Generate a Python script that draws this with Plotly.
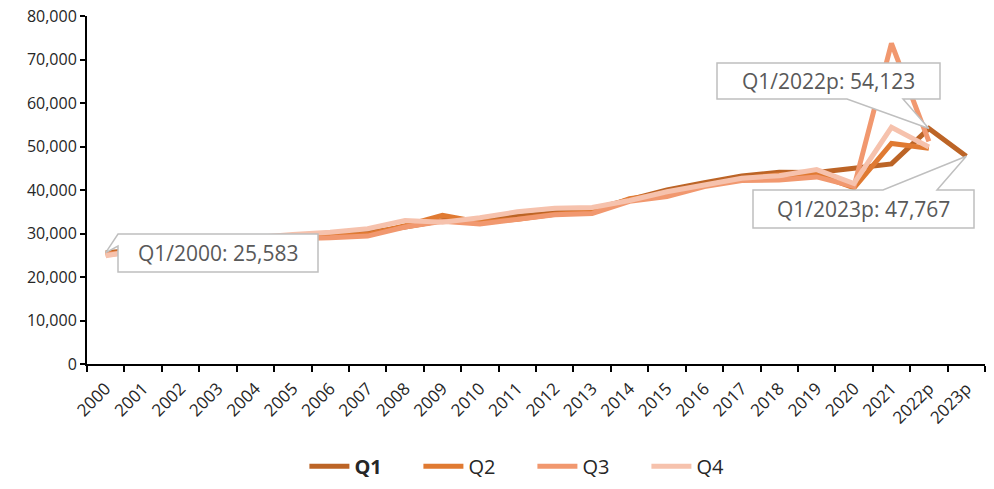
import plotly.graph_objects as go

years = ["2000", "2001", "2002", "2003", "2004", "2005", "2006", "2007", "2008", "2009",
         "2010", "2011", "2012", "2013", "2014", "2015", "2016", "2017", "2018", "2019",
         "2020", "2021", "2022p", "2023p"]

q1 = [25583, 26300, 27000, 27800, 28500, 29200, 29600, 30200, 31500, 33000,
      33200, 34000, 35000, 35600, 37800, 40000, 41700, 43200, 44100, 44000,
      45000, 46000, 54123, 47767]
q2 = [25300, 26100, 26900, 27600, 28300, 28900, 29300, 29800, 31800, 34200,
      32600, 33300, 34400, 35000, 38000, 39200, 41000, 42600, 43500, 43600,
      40500, 50700, 49600, None]
q3 = [25100, 26000, 26800, 27500, 28200, 28800, 29000, 29400, 31500, 32800,
      32200, 33300, 34300, 34600, 37400, 38500, 40800, 42200, 42300, 43000,
      40800, 73700, 51200, None]
q4 = [24900, 26300, 27300, 28300, 29100, 29800, 30300, 31100, 33000, 32600,
      33600, 35000, 35800, 36000, 37600, 39600, 41200, 42700, 43300, 44700,
      41500, 54400, 49900, None]

series_names = ["<b>Q1</b>", "Q2", "Q3", "Q4"]
series_colors = ["#BC6426", "#E07A32", "#F1986F", "#F6C2AD"]

FONT = "Open Sans"
W, H = 994, 489
L, R, T, B = 87, 9, 16, 125
YMAX = 80000
NCAT = len(years)
xs = list(range(NCAT))

pw = W - L - R
ph = H - T - B


def px2d(px, py):
    x = (px - L) / pw * NCAT - 0.5
    y = (H - B - py) / ph * YMAX
    return x, y


fig = go.Figure()
for name, vals, col in zip(series_names, [q1, q2, q3, q4], series_colors):
    fig.add_trace(go.Scatter(x=xs, y=vals, mode="lines", name=name,
                             line=dict(color=col, width=5, shape="linear"),
                             connectgaps=False))

# callouts: (index of point, series values, label, box px, side of tail, tail base px)
callouts = [
    (0, q1, "Q1/2000: 25,583", (118, 234, 318, 272), "left", (234, 246)),
    (22, q1, "Q1/2022p: 54,123", (717, 63, 940, 99), "bottom", (847, 903)),
    (23, q1, "Q1/2023p: 47,767", (753, 190, 974, 228), "top", (883, 937)),
]

for idx, vals, text, (x0, y0, x1, y1), side, (b0, b1) in callouts:
    tip = (idx, vals[idx])
    if side == "left":
        poly = [px2d(x0, y0), px2d(x1, y0), px2d(x1, y1), px2d(x0, y1), px2d(x0, b1), tip]
    elif side == "bottom":
        poly = [px2d(x0, y0), px2d(x1, y0), px2d(x1, y1), px2d(b1, y1), tip,
                px2d(b0, y1), px2d(x0, y1)]
    else:
        poly = [px2d(x0, y0), px2d(b0, y0), tip, px2d(b1, y0), px2d(x1, y0),
                px2d(x1, y1), px2d(x0, y1)]
    path = "M " + " L ".join(f"{p[0]:.4f},{p[1]:.2f}" for p in poly) + " Z"
    fig.add_shape(type="path", path=path, xref="x", yref="y", layer="above",
                  fillcolor="white", line=dict(color="#BFBFBF", width=1.5))
    cx, cy = px2d((x0 + x1) / 2, (y0 + y1) / 2)
    fig.add_annotation(x=cx, y=cy, xref="x", yref="y", text=text, showarrow=False,
                       font=dict(family=FONT, size=21, color="#595959"),
                       xanchor="center", yanchor="middle")

fig.update_layout(
    width=W, height=H,
    margin=dict(l=L, r=R, t=T, b=B, autoexpand=False),
    paper_bgcolor="white", plot_bgcolor="white",
    font=dict(family=FONT, color="#262626"),
    showlegend=True,
    legend=dict(orientation="h", x=0.496, xanchor="center", y=-0.294, yanchor="middle",
                font=dict(family=FONT, size=20, color="#262626"),
                entrywidth=59, entrywidthmode="pixels", itemwidth=40,
                traceorder="normal"),
    xaxis=dict(range=[-0.5, NCAT - 0.5], tickmode="array", tickvals=xs, ticktext=years,
               ticks="", tickangle=-45, showgrid=False, zeroline=False, automargin=False,
               showline=True, linecolor="black", linewidth=2, ticklabelstandoff=6,
               tickfont=dict(family=FONT, size=17, color="#262626"),
               minor=dict(tick0=-0.5, dtick=1, ticks="outside", ticklen=6,
                          tickwidth=2, tickcolor="black", showgrid=False)),
    yaxis=dict(range=[0, YMAX], dtick=10000, tickformat=",", ticks="outside",
               ticklen=5, tickwidth=2, tickcolor="black", showgrid=False, automargin=False,
               zeroline=False, showline=True, linecolor="black", linewidth=2,
               tickfont=dict(family=FONT, size=16, color="#262626")),
    hovermode=False,
)

fig.write_html("out.html")
